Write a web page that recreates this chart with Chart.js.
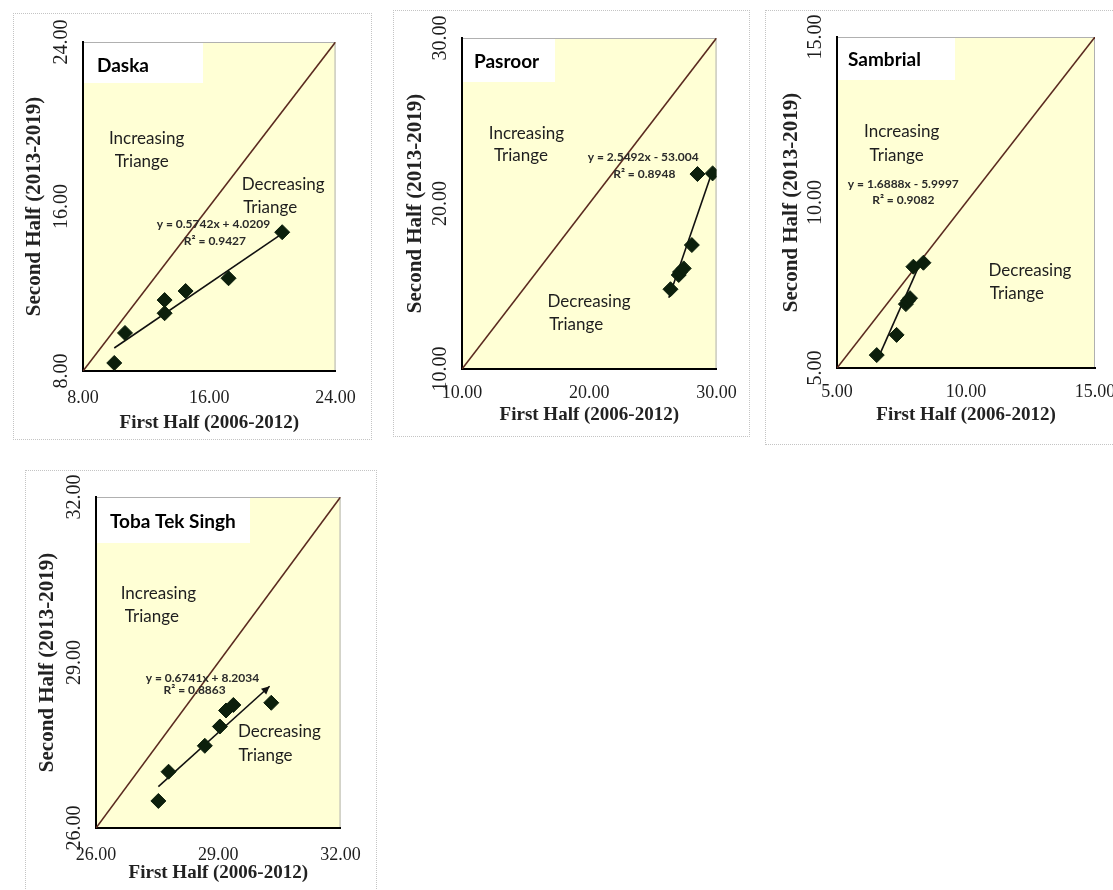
<!DOCTYPE html>
<html>
<head>
<meta charset="utf-8">
<script src="https://cdn.jsdelivr.net/npm/chart.js@4.4.1/dist/chart.umd.min.js"></script>
<style>
  html, body { margin:0; padding:0; background:#fff; width:1113px; height:890px; overflow:hidden; position:relative; }
  .panel { position:absolute; }
  .frame { position:absolute; border:1px dotted #c4c4c4; box-sizing:border-box; pointer-events:none; }
  canvas { display:block; }
</style>
</head>
<body>
<script>
// ---------------- DATA ----------------
const panelNames = ['Daska', 'Pasroor', 'Sambrial', 'Toba Tek Singh'];

const daskaX = [9.98, 10.66, 13.17, 13.17, 14.50, 17.22, 20.62];
const daskaY = [8.39, 9.85, 10.81, 11.45, 11.89, 12.51, 14.75];
const daskaTrendX = [9.98, 20.48];
const daskaTrendY = [9.12, 14.61];
const daskaTicks = [8, 16, 24];
const daskaEquation = ['y = 0.5742x + 4.0209', 'R² = 0.9427'];

const pasroorX = [26.38, 27.03, 27.13, 27.42, 28.06, 28.50, 29.69];
const pasroorY = [14.82, 15.68, 15.86, 16.08, 17.49, 21.78, 21.82];
const pasroorTrendX = [26.25, 29.65];
const pasroorTrendY = [14.30, 21.90];
const pasroorTicks = [10, 20, 30];
const pasroorEquation = ['y = 2.5492x - 53.004', 'R² = 0.8948'];

const sambrialX = [6.54, 7.31, 7.67, 7.75, 7.83, 7.96, 8.35];
const sambrialY = [5.39, 6.00, 6.93, 7.03, 7.11, 8.06, 8.18];
const sambrialTrendX = [6.56, 8.22];
const sambrialTrendY = [5.24, 8.16];
const sambrialTicks = [5, 10, 15];
const sambrialEquation = ['y = 1.6888x - 5.9997', 'R² = 0.9082'];

const tobaX = [27.53, 27.78, 28.67, 29.04, 29.19, 29.37, 30.30];
const tobaY = [26.49, 27.02, 27.49, 27.84, 28.13, 28.23, 28.27];
const tobaTrendX = [27.53, 30.26];
const tobaTrendY = [26.75, 28.57];
const tobaTicks = [26, 29, 32];
const tobaEquation = ['y = 0.6741x + 8.2034', 'R² = 0.8863'];

const xAxisTitle = 'First Half (2006-2012)';
const yAxisTitle = 'Second Half (2013-2019)';
const increasingLabel = ['Increasing', 'Triange'];
const decreasingLabel = ['Decreasing', 'Triange'];

// ---------------- LAYOUT / STYLE ----------------
const layouts = [
  { frame:[13,13,372,440], plot:[83,42,342,371], yTitleD:48, xTickD:27, xTitleD:52, box:[120,41], nameDX:14, nameDY:24,
    inc:[[12.03,19.32],[11.72,18.21]], dec:[[20.68,17.08],[19.86,15.96]], eq:[[16.26,15.15],[16.36,14.34]], arrow:false },
  { frame:[393,10,750,437], plot:[462,38,720,369], yTitleD:46, xTickD:24, xTitleD:46, box:[93,44], nameDX:12, nameDY:24,
    inc:[[15.06,24.24],[14.63,22.87]], dec:[[19.98,14.07],[18.97,12.66]], eq:[[24.24,22.83],[24.32,21.78]], arrow:false },
  { frame:[765,10,1135,445], plot:[837,37,1095,368], yTitleD:45, xTickD:24, xTitleD:47, box:[118,43], nameDX:11, nameDY:23,
    inc:[[7.51,12.14],[7.31,11.43]], dec:[[12.48,7.96],[11.97,7.26]], eq:[[7.57,10.55],[7.57,10.08]], arrow:false },
  { frame:[25,470,377,905], plot:[96,497,354,828], yTitleD:48, xTickD:27, xTitleD:45, box:[154,46], nameDX:14, nameDY:25,
    inc:[[27.53,30.25],[27.37,29.84]], dec:[[30.50,27.74],[30.16,27.32]], eq:[[28.61,28.71],[28.42,28.50]], arrow:true }
];

const series = [
  { x:daskaX, y:daskaY, tx:daskaTrendX, ty:daskaTrendY, ticks:daskaTicks, eq:daskaEquation },
  { x:pasroorX, y:pasroorY, tx:pasroorTrendX, ty:pasroorTrendY, ticks:pasroorTicks, eq:pasroorEquation },
  { x:sambrialX, y:sambrialY, tx:sambrialTrendX, ty:sambrialTrendY, ticks:sambrialTicks, eq:sambrialEquation },
  { x:tobaX, y:tobaY, tx:tobaTrendX, ty:tobaTrendY, ticks:tobaTicks, eq:tobaEquation }
];

const YELLOW = '#FFFFD5';
const DIAG = '#5a2a1f';
const MARK = '#0c1f0c';
const TEXT = '#1e1e1e';
const SANS = 'Lato, "Open Sans", sans-serif';
const SERIF = '"Liberation Serif", "DejaVu Serif", serif';

const deco = {
  id: 'deco',
  beforeDraw(chart, args, o) {
    const {ctx, chartArea:a} = chart;
    ctx.save();
    ctx.fillStyle = YELLOW;
    ctx.fillRect(a.left, a.top, a.right - a.left, a.bottom - a.top);
    ctx.fillStyle = '#ffffff';
    ctx.fillRect(a.left, a.top, o.L.box[0], o.L.box[1]);
    ctx.strokeStyle = '#b0b0b0';
    ctx.lineWidth = 1;
    ctx.beginPath();
    ctx.moveTo(a.left, a.top + 0.5);
    ctx.lineTo(a.right - 0.5, a.top + 0.5);
    ctx.lineTo(a.right - 0.5, a.bottom);
    ctx.stroke();
    ctx.restore();
  },
  afterDatasetsDraw(chart, args, o) {
    const {ctx, chartArea:a, scales:{x, y}} = chart;
    const L = o.L;
    ctx.save();
    // panel name
    ctx.fillStyle = '#000';
    ctx.font = 'bold 19px ' + SANS;
    ctx.textAlign = 'left';
    ctx.textBaseline = 'middle';
    ctx.fillText(o.name, a.left + L.nameDX, a.top + L.nameDY);
    // region labels
    ctx.font = '17px ' + SANS;
    ctx.fillStyle = TEXT;
    ctx.textAlign = 'center';
    [[increasingLabel, L.inc], [decreasingLabel, L.dec]].forEach(([txt, pos]) => {
      txt.forEach((t, i) => ctx.fillText(t, x.getPixelForValue(pos[i][0]), y.getPixelForValue(pos[i][1])));
    });
    // equation
    ctx.font = 'bold 12px ' + SANS;
    ctx.fillStyle = '#2a2a2a';
    o.S.eq.forEach((t, i) => ctx.fillText(t, x.getPixelForValue(L.eq[i][0]), y.getPixelForValue(L.eq[i][1])));
    // arrow head on trend line
    if (L.arrow) {
      const x0 = x.getPixelForValue(o.S.tx[0]), y0 = y.getPixelForValue(o.S.ty[0]);
      const x1 = x.getPixelForValue(o.S.tx[1]), y1 = y.getPixelForValue(o.S.ty[1]);
      const ang = Math.atan2(y1 - y0, x1 - x0);
      const len = 9, w = 0.45;
      ctx.fillStyle = '#111';
      ctx.beginPath();
      ctx.moveTo(x1, y1);
      ctx.lineTo(x1 - len * Math.cos(ang - w), y1 - len * Math.sin(ang - w));
      ctx.lineTo(x1 - len * Math.cos(ang + w), y1 - len * Math.sin(ang + w));
      ctx.closePath();
      ctx.fill();
    }
    ctx.restore();
  }
};

function makePanel(i) {
  const L = layouts[i], S = series[i];
  const [fl, ft, fr, fb] = L.frame;
  const [pl, pt, pr, pb] = L.plot;
  const W = fr - fl, H = fb - ft;

  const fr_div = document.createElement('div');
  fr_div.className = 'frame';
  Object.assign(fr_div.style, { left: fl + 'px', top: ft + 'px', width: W + 'px', height: H + 'px' });
  const div = document.createElement('div');
  div.className = 'panel';
  Object.assign(div.style, { left: fl + 'px', top: ft + 'px', width: W + 'px', height: H + 'px' });
  const cv = document.createElement('canvas');
  cv.width = W; cv.height = H;
  div.appendChild(cv);
  document.body.appendChild(div);
  document.body.appendChild(fr_div);

  const yW = pl - fl;
  const xH = fb - pb;
  const mn = S.ticks[0], mx = S.ticks[S.ticks.length - 1];
  const fmt = v => Number(v).toFixed(2);
  const tickFix = s => { s.ticks = S.ticks.map(v => ({ value: v })); };

  new Chart(cv, {
    type: 'scatter',
    data: {
      datasets: [
        { type:'scatter', data: S.x.map((v, k) => ({ x: v, y: S.y[k] })),
          pointStyle:'rectRot', pointRadius:7.5, pointHoverRadius:7.5,
          backgroundColor: MARK, borderColor: MARK, borderWidth: 1 },
        { type:'line', data: S.tx.map((v, k) => ({ x: v, y: S.ty[k] })),
          borderColor:'#111', borderWidth:1.6, pointRadius:0, fill:false, tension:0 },
        { type:'line', data: [{ x: mn, y: mn }, { x: mx, y: mx }],
          borderColor: DIAG, borderWidth:1.6, pointRadius:0, fill:false, tension:0 }
      ]
    },
    options: {
      responsive:false, animation:false, devicePixelRatio:1,
      layout: { padding: { left:0, bottom:0, top: pt - ft, right: fr - pr } },
      plugins: { legend:{ display:false }, tooltip:{ enabled:false }, deco: { L, S, name: panelNames[i] } },
      scales: {
        x: {
          type:'linear', min: mn, max: mx, afterBuildTicks: tickFix,
          grid:{ display:false, drawTicks:false },
          border:{ display:true, color:'#000', width:2 },
          ticks:{ callback: fmt, autoSkip:false, maxRotation:0, minRotation:0, color:TEXT,
                  font:{ family:SERIF, size:18 }, padding: L.xTickD - 10.8 },
          title:{ display:true, text:xAxisTitle, color:'#222',
                  font:{ family:SERIF, size:19, weight:'bold' },
                  padding:{ top:0, bottom: xH - L.xTitleD - 11.4 } },
          afterFit: s => { s.height = xH; }
        },
        y: {
          type:'linear', min: mn, max: mx, afterBuildTicks: tickFix,
          grid:{ display:false, drawTicks:false },
          border:{ display:true, color:'#000', width:2 },
          ticks:{ callback: fmt, autoSkip:false, minRotation:90, maxRotation:90, crossAlign:'center', color:TEXT,
                  font:{ family:SERIF, size:20 }, padding: -1.5 },
          title:{ display:true, text:yAxisTitle, color:'#222',
                  font:{ family:SERIF, size:21, weight:'bold' },
                  padding:{ top: yW - L.yTitleD - 12.6, bottom:0 } },
          afterFit: s => { s.width = yW; }
        }
      }
    },
    plugins: [deco]
  });
}

for (let i = 0; i < 4; i++) makePanel(i);
</script>
</body>
</html>
